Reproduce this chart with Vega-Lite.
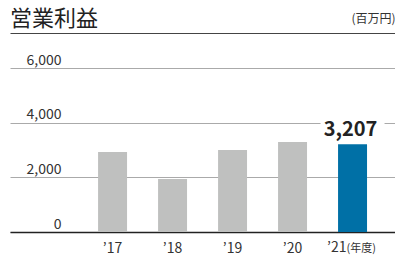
{
  "$schema": "https://vega.github.io/schema/vega-lite/v6.json",
  "width": 385,
  "height": 164,
  "autosize": {"type": "none"},
  "padding": {"left": 10, "top": 68, "right": 0, "bottom": 26},
  "background": "white",
  "config": {"font": "Noto Sans CJK JP", "view": {"stroke": null}},
  "title": {"text": "営業利益", "anchor": "start", "frame": "group", "fontSize": 22, "fontWeight": "normal", "color": "#222222", "offset": 0, "dy": 19},
  "data": {"values": [
    {"year": "2017", "value": 2925},
    {"year": "2018", "value": 1938},
    {"year": "2019", "value": 2998},
    {"year": "2020", "value": 3290},
    {"year": "2021", "value": 3207}
  ]},
  "resolve": {"axis": {"x": "independent", "y": "independent"}},
  "layer": [
    {
      "mark": {"type": "bar"},
      "encoding": {
        "x": {"field": "year", "type": "nominal", "sort": null,
          "scale": {"paddingInner": 0.517, "paddingOuter": 0.967, "align": 0.759},
          "axis": {"title": null, "orient": "bottom", "domainColor": "#222222", "domainWidth": 1.5, "ticks": false, "tickSize": 0, "grid": false,
            "labelExpr": "datum.value == '2021' ? '' : '’' + slice(datum.value, 2)",
            "labelAngle": 0, "labelBaseline": "alphabetic", "labelPadding": 20, "labelFontSize": 14, "labelColor": "#333333"}},
        "y": {"field": "value", "type": "quantitative",
          "scale": {"domain": [0, 6000], "nice": false},
          "axis": {"values": [0, 2000, 4000, 6000], "labelExpr": "format(datum.value, ',')", "grid": true, "gridColor": "#aaaaaa", "gridWidth": 1, "domain": false, "ticks": false, "tickSize": 0,
            "labelAlign": "right", "labelBaseline": "alphabetic", "labelPadding": -51, "labelOffset": -4, "labelFontSize": 14, "labelColor": "#333333",
            "title": "(百万円)", "titleAngle": 0, "titleAlign": "right", "titleBaseline": "alphabetic", "titleX": 385, "titleY": -46, "titleFontSize": 12, "titleFontWeight": "normal", "titleColor": "#333333"}},
        "color": {"field": "year", "type": "nominal", "legend": null,
          "scale": {"domain": ["2017", "2018", "2019", "2020", "2021"], "range": ["#bfc0bf", "#bfc0bf", "#bfc0bf", "#bfc0bf", "#0070a6"]}}
      }
    },
    {
      "transform": [{"filter": "datum.year == '2021'"}],
      "mark": {"type": "tick", "color": "white", "size": 64, "thickness": 4, "opacity": 1},
      "encoding": {
        "x": {"field": "year", "type": "nominal", "sort": null,
          "axis": {"orient": "top", "offset": 35, "domain": true, "domainColor": "#444444", "domainWidth": 1.2, "labels": false, "ticks": false, "grid": false, "title": null}},
        "y": {"datum": 4000, "axis": null}
      }
    },
    {
      "transform": [{"filter": "datum.year == '2021'"}],
      "mark": {"type": "text", "baseline": "alphabetic", "dy": -8, "dx": -2, "fontSize": 20, "fontWeight": "bold", "color": "#222222"},
      "encoding": {
        "x": {"field": "year", "type": "nominal", "sort": null, "axis": null},
        "y": {"field": "value", "type": "quantitative", "axis": null},
        "text": {"field": "value", "type": "quantitative", "format": ","}
      }
    },
    {
      "transform": [{"filter": "datum.year == '2021'"}, {"calculate": "'’21'", "as": "lab"}],
      "mark": {"type": "text", "baseline": "alphabetic", "align": "right", "dy": 20, "dx": -6, "fontSize": 14, "color": "#333333"},
      "encoding": {
        "x": {"field": "year", "type": "nominal", "sort": null, "axis": null},
        "y": {"datum": 0, "axis": null},
        "text": {"field": "lab"}
      }
    },
    {
      "transform": [{"filter": "datum.year == '2021'"}, {"calculate": "'(年度)'", "as": "lab"}],
      "mark": {"type": "text", "baseline": "alphabetic", "align": "left", "dy": 20, "dx": -6, "fontSize": 11, "color": "#333333"},
      "encoding": {
        "x": {"field": "year", "type": "nominal", "sort": null, "axis": null},
        "y": {"datum": 0, "axis": null},
        "text": {"field": "lab"}
      }
    }
  ]
}
